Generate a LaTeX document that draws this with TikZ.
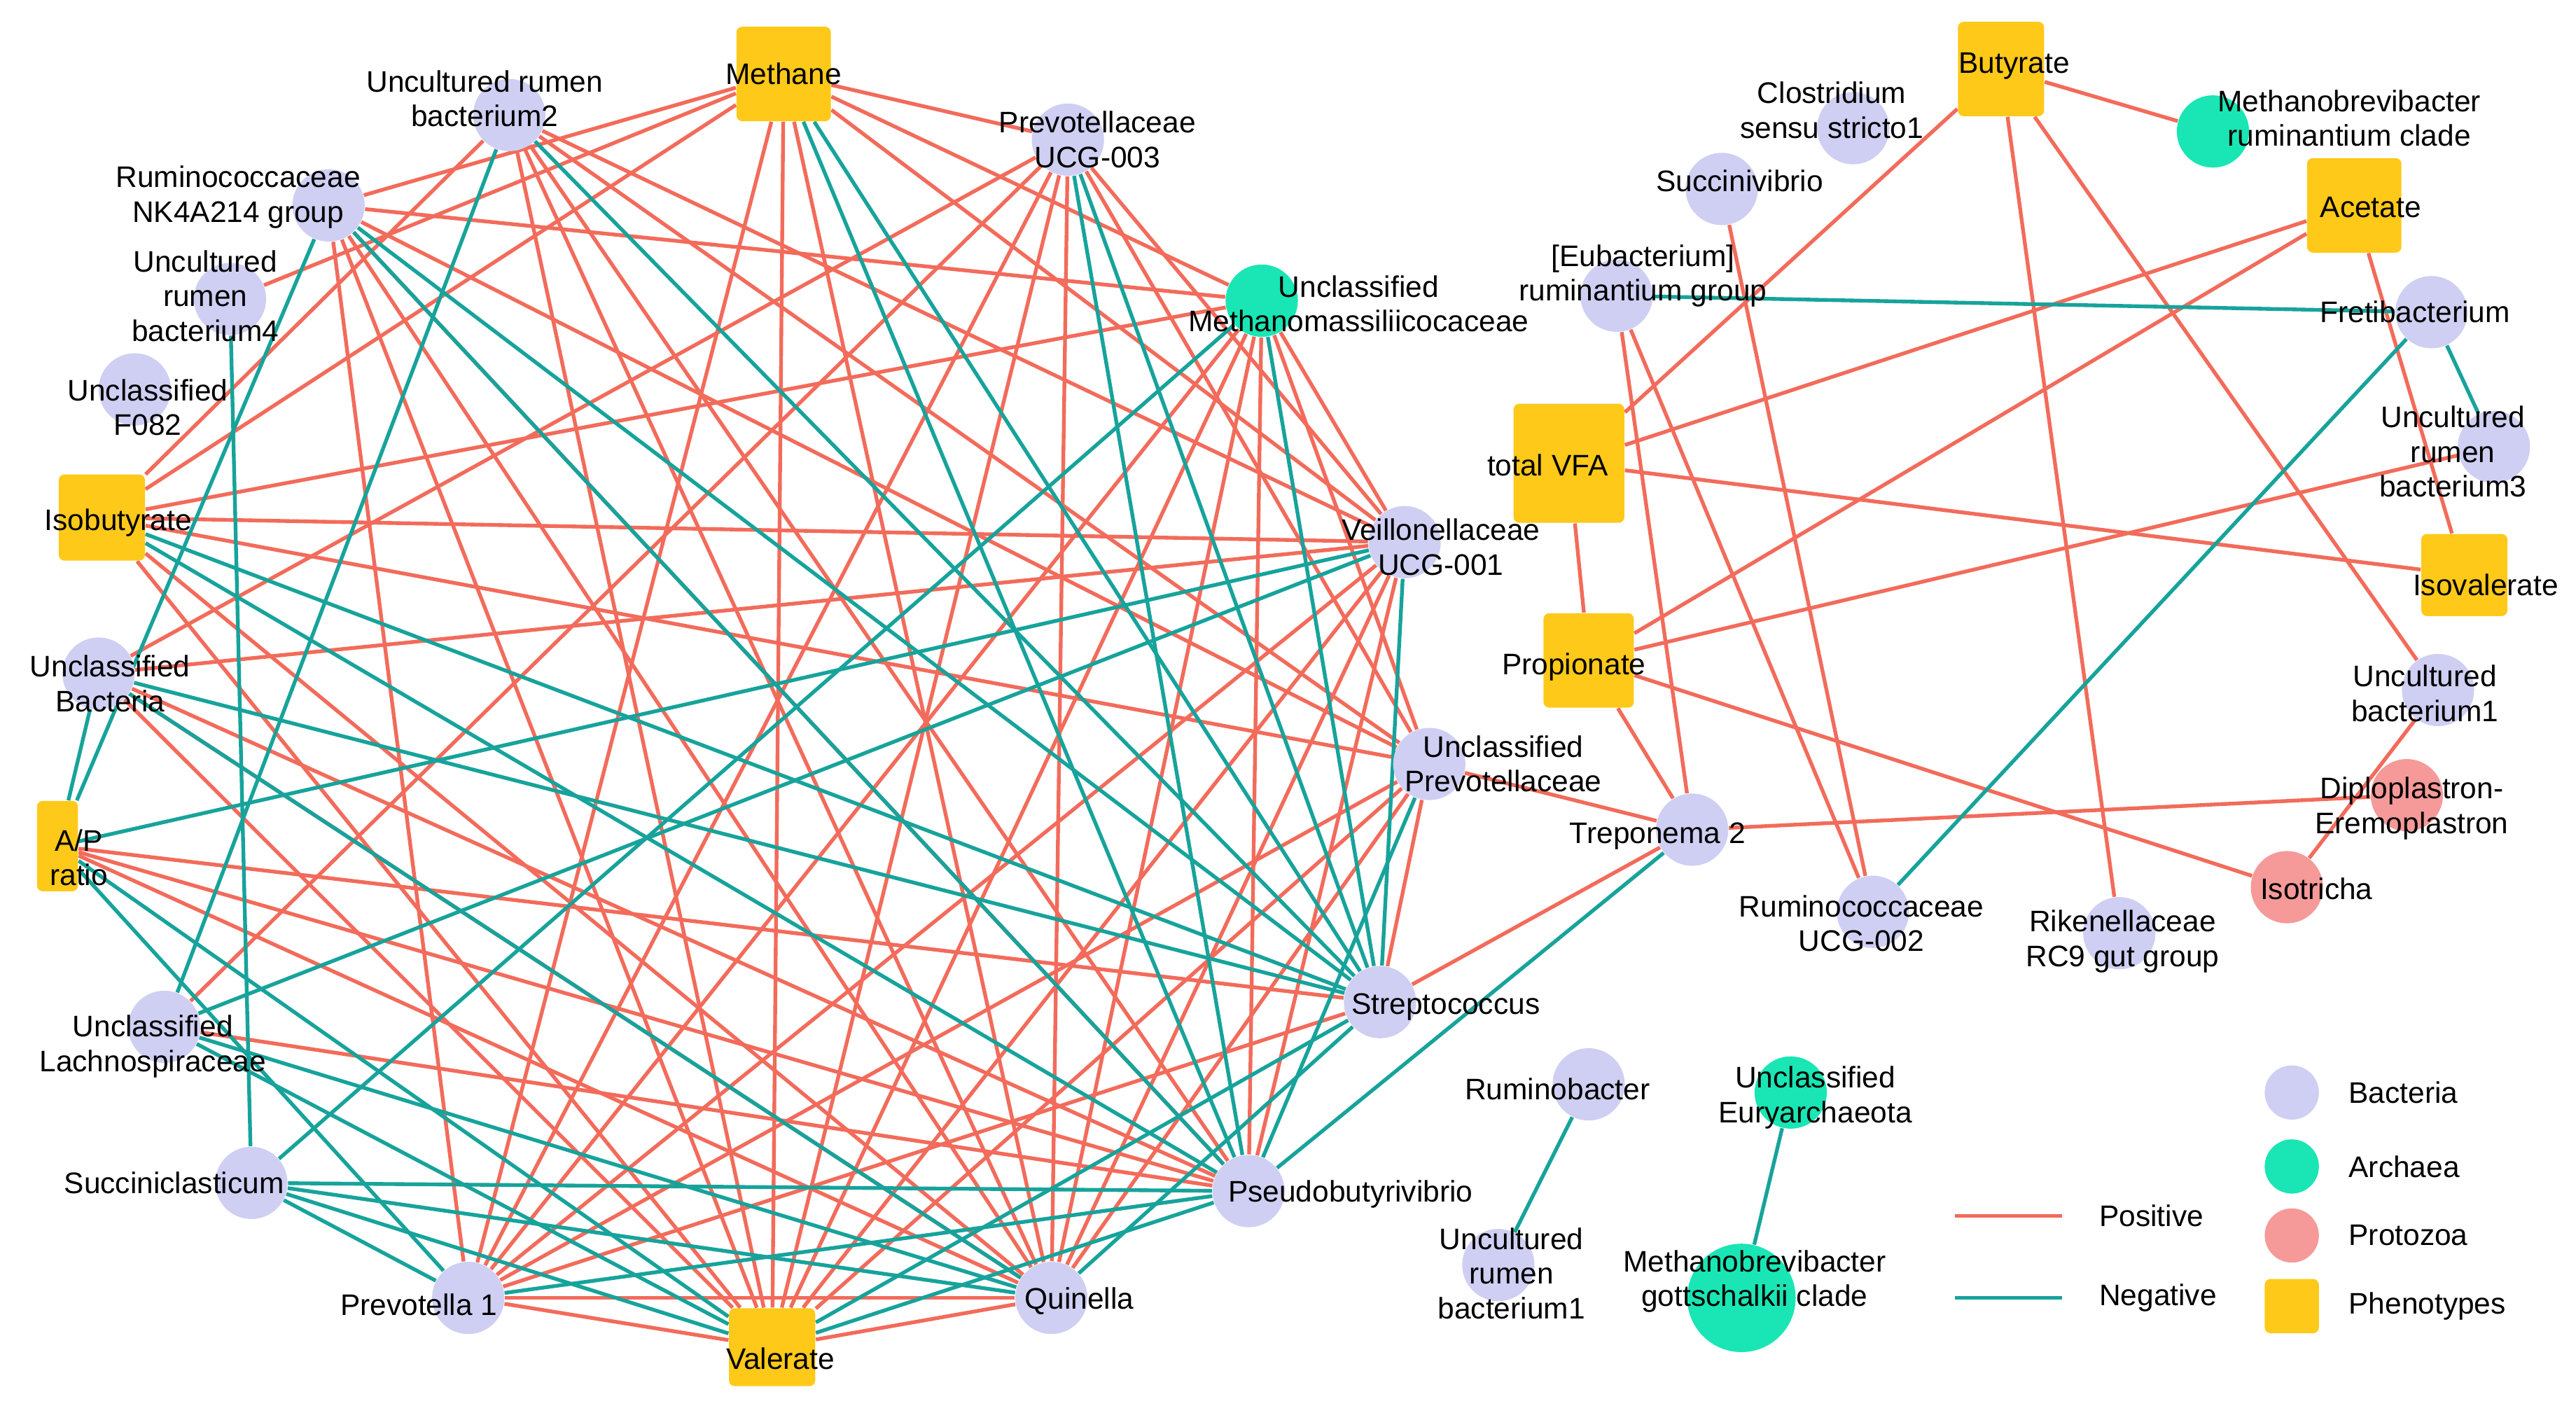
\documentclass[tikz,border=0pt]{standalone}
\usepackage{fontspec}
\setmainfont{Liberation Sans}
\usetikzlibrary{positioning,backgrounds}
\definecolor{bacc}{HTML}{CFCFF3}
\definecolor{arcc}{HTML}{19E6B4}
\definecolor{proc}{HTML}{F59A99}
\definecolor{phec}{HTML}{FFC91A}
\definecolor{posc}{HTML}{F26B5B}
\definecolor{negc}{HTML}{17A39B}
\begin{document}
\begin{tikzpicture}[x=0.02cm,y=-0.02cm,
  bac/.style={circle,fill=bacc,minimum size=0.88cm,inner sep=0pt},
  arc/.style={circle,fill=arcc,minimum size=0.88cm,inner sep=0pt},
  pro/.style={circle,fill=proc,minimum size=0.88cm,inner sep=0pt},
  phe/.style={rectangle,rounded corners=2pt,fill=phec,minimum size=1.15cm,inner sep=0pt},
  lab/.style={font=\fontsize{10.3}{12}\selectfont,align=center,inner sep=0pt},
  poslink/.style={draw=posc,line width=1.3pt},
  neglink/.style={draw=negc,line width=1.3pt}]
\useasboundingbox (0,0) rectangle (1568,860);
%left ring
\node[phe] (M) at (477,45) {};
\node[bac] (B2) at (310,70) {};
\node[bac] (P3) at (650,85) {};
\node[bac] (NK) at (200,125) {};
\node[bac] (B4) at (140,182) {};
\node[arc] (UM) at (768,183) {};
\node[bac] (F82) at (82,237) {};
\node[phe,minimum size=1.05cm] (Iso) at (62,315) {};
\node[bac] (Vei) at (855,330) {};
\node[bac] (UB) at (60,410) {};
\node[bac] (UP) at (870,465) {};
\node[phe,minimum width=0.5cm,minimum height=1.1cm] (AP) at (35,515) {};
\node[bac] (Str) at (840,610) {};
\node[bac] (UL) at (100,625) {};
\node[bac] (Suc) at (153,720) {};
\node[bac] (Pse) at (760,725) {};
\node[bac] (P1) at (285,790) {};
\node[bac] (Qui) at (640,790) {};
\node[phe,minimum width=1.05cm,minimum height=0.95cm] (Val) at (470,820) {};
%right part
\node[phe,minimum width=1.05cm] (But) at (1218,42) {};
\node[bac] (Clo) at (1128,78) {};
\node[arc] (MRc) at (1347,80) {};
\node[bac] (Sv) at (1048,115) {};
\node[phe] (Ace) at (1433,125) {};
\node[bac] (Eub) at (984,180) {};
\node[bac] (Fre) at (1480,190) {};
\node[phe,minimum width=1.35cm,minimum height=1.45cm] (VFA) at (955,282) {};
\node[bac] (B3) at (1518,272) {};
\node[phe,minimum width=1.05cm,minimum height=1.0cm] (Iva) at (1500,350) {};
\node[phe,minimum width=1.1cm] (Pro) at (967,402) {};
\node[bac] (UB1) at (1484,420) {};
\node[pro] (Dip) at (1465,484) {};
\node[bac] (Tre) at (1030,505) {};
\node[pro] (Isot) at (1392,540) {};
\node[bac] (R002) at (1140,555) {};
\node[bac] (Rik) at (1290,568) {};
\node[bac] (Rbt) at (967,660) {};
\node[bac] (RB1) at (912,770) {};
\node[arc] (Eur) at (1090,665) {};
\node[arc,minimum size=1.32cm] (Got) at (1060,790) {};
%edges
\begin{pgfonlayer}{background}
\foreach \a/\b in {M/NK,M/B4,M/Iso,M/P3,M/UM,M/Vei,M/P1,M/Val,M/Qui,
  B2/Vei,B2/UP,B2/Qui,B2/Val,B2/Pse,B2/Iso,NK/UM,NK/UP,NK/Qui,NK/Val,NK/P1,NK/Pse,
  P3/UB,P3/P1,P3/Val,P3/Qui,P3/Vei,P3/UP,P3/UL,UM/Iso,UM/P1,UM/Val,UM/Qui,UM/Pse,UM/Vei,UM/UP,
  Iso/Vei,Iso/UP,Iso/Qui,Iso/Val,Vei/UB,Vei/P1,Vei/Val,Vei/Qui,Vei/Pse,
  UB/Qui,UB/Pse,UB/Val,UP/Val,UP/P1,UP/Str,UP/Qui,AP/Str,AP/Pse,AP/Qui,
  Str/P1,UL/Pse,Qui/Val,P1/Val,P1/Qui,UP/Tre,Str/Tre,
  But/VFA,But/MRc,But/Rik,But/UB1,Sv/R002,Eub/R002,Eub/Tre,Ace/VFA,Ace/Pro,
  Ace/Iva,VFA/Iva,VFA/Pro,Pro/Tre,Pro/Isot,Pro/B3,Tre/Dip,Isot/UB1}
  \draw[poslink] (\a) -- (\b);
\foreach \a/\b in {M/Str,M/Pse,B2/Str,B2/UL,NK/AP,NK/Str,NK/Pse,B4/Suc,
  P3/Str,P3/Pse,UM/Suc,UM/Str,Iso/Pse,Iso/Str,Vei/UL,Vei/AP,Vei/Str,
  UB/AP,UB/Str,UB/Qui,UP/Pse,AP/P1,AP/Val,UL/Qui,UL/Val,Suc/Pse,Suc/Qui,Suc/Val,
  Suc/P1,Str/Val,Str/Qui,Pse/P1,Pse/Val,Pse/Tre,
  Eub/Fre,Fre/B3,Fre/R002,Rbt/RB1,Eur/Got}
  \draw[neglink] (\a) -- (\b);
\end{pgfonlayer}
%labels
\node[lab] at (477,45) {Methane};
\node[lab] at (295,60) {Uncultured rumen\\bacterium2};
\node[lab] at (668,85) {Prevotellaceae\\UCG-003};
\node[lab] at (145,120) {Ruminococcaceae\\NK4A214 group};
\node[lab] at (125,180) {Uncultured\\rumen\\bacterium4};
\node[lab] at (827,185) {Unclassified\\Methanomassiliicocaceae};
\node[lab] at (90,248) {Unclassified\\F082};
\node[lab] at (72,318) {Isobutyrate};
\node[lab] at (877,333) {Veillonellaceae\\UCG-001};
\node[lab] at (67,416) {Unclassified\\Bacteria};
\node[lab] at (915,465) {Unclassified\\Prevotellaceae};
\node[lab] at (48,522) {A/P\\ratio};
\node[lab] at (880,613) {Streptococcus};
\node[lab] at (93,637) {Unclassified\\Lachnospiraceae};
\node[lab] at (106,720) {Succiniclasticum};
\node[lab] at (822,727) {Pseudobutyrivibrio};
\node[lab] at (255,794) {Prevotella 1};
\node[lab] at (657,792) {Quinella};
\node[lab] at (475,827) {Valerate};
\node[lab] at (1226,40) {Butyrate};
\node[lab] at (1115,67) {Clostridium\\sensu stricto1};
\node[lab] at (1430,72) {Methanobrevibacter\\ruminantium clade};
\node[lab] at (1059,110) {Succinivibrio};
\node[lab] at (1443,126) {Acetate};
\node[lab] at (1000,168) {[Eubacterium]\\ruminantium group};
\node[lab] at (1470,190) {Fretibacterium};
\node[lab] at (942,283) {total VFA};
\node[lab] at (1493,275) {Uncultured\\rumen\\bacterium3};
\node[lab] at (1513,356) {Isovalerate};
\node[lab] at (958,406) {Propionate};
\node[lab] at (1476,422) {Uncultured\\bacterium1};
\node[lab] at (1468,492) {Diploplastron-\\Eremoplastron};
\node[lab] at (1009,509) {Treponema 2};
\node[lab] at (1410,541) {Isotricha};
\node[lab] at (1133,562) {Ruminococcaceae\\UCG-002};
\node[lab] at (1292,573) {Rikenellaceae\\RC9 gut group};
\node[lab] at (948,663) {Ruminobacter};
\node[lab] at (920,775) {Uncultured\\rumen\\bacterium1};
\node[lab] at (1105,668) {Unclassified\\Euryarchaeota};
\node[lab] at (1068,780) {Methanobrevibacter\\gottschalkii clade};
%legend
\node[bac,minimum size=0.66cm] (lb) at (1395,665) {};
\node[arc,minimum size=0.66cm] (la) at (1395,710) {};
\node[pro,minimum size=0.66cm] (lp) at (1395,752) {};
\node[phe,minimum size=0.66cm] (lf) at (1395,795) {};
\node[lab,right=0.35cm of lb] {Bacteria};
\node[lab,right=0.35cm of la] {Archaea};
\node[lab,right=0.35cm of lp] {Protozoa};
\node[lab,right=0.35cm of lf] {Phenotypes};
\coordinate (p1) at (1190,740); \coordinate (p2) at (1255,740);
\coordinate (n1) at (1190,790); \coordinate (n2) at (1255,790);
\draw[poslink] (p1) -- (p2);
\draw[neglink] (n1) -- (n2);
\node[lab,right=0.45cm of p2] {Positive};
\node[lab,right=0.45cm of n2] {Negative};
\end{tikzpicture}
\end{document}
